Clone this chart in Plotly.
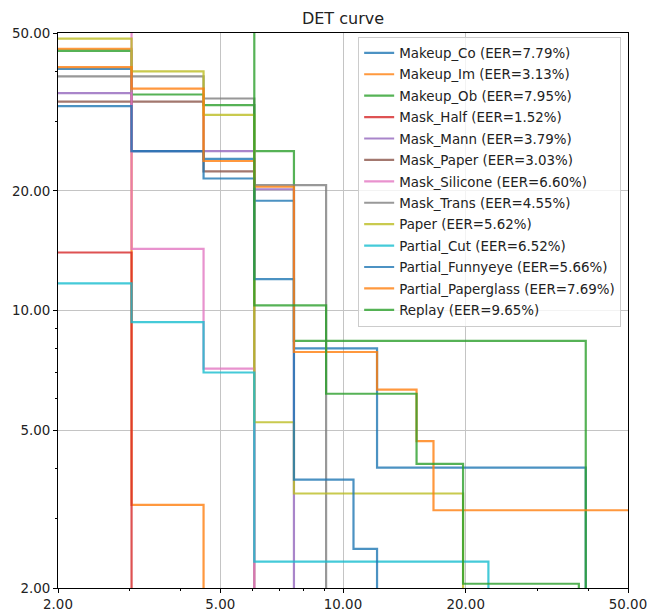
import plotly.graph_objects as go

# DET curve data: false positive rate (%) and false negative rate (%) at each step vertex.
# Each series is drawn as a staircase ("hv"): horizontal to the next x, then vertical.
names = [
    "Makeup_Co", "Makeup_Im", "Makeup_Ob", "Mask_Half", "Mask_Mann", "Mask_Paper",
    "Mask_Silicone", "Mask_Trans", "Paper", "Partial_Cut", "Partial_Funnyeye",
    "Partial_Paperglass", "Replay",
]
eer = [7.79, 3.13, 7.95, 1.52, 3.79, 3.03, 6.60, 4.55, 5.62, 6.52, 5.66, 7.69, 9.65]

fpr_makeup_co = [1.52, 3.03, 4.55, 6.06, 7.58, 12.12, 39.39]
fnr_makeup_co = [40.6, 25.2, 24.1, 18.9, 8.03, 4.02, 1.0]

fpr_makeup_im = [1.52, 3.03, 4.55]
fnr_makeup_im = [45.6, 3.24, 1.0]

fpr_makeup_ob = [1.52, 3.03, 4.55, 6.06, 7.58, 39.39]
fnr_makeup_ob = [45.1, 35.0, 32.9, 25.2, 8.38, 1.0]

fpr_mask_half = [1.52, 3.03]
fnr_mask_half = [14.0, 1.0]

fpr_mask_mann = [1.52, 3.03, 6.06, 7.58]
fnr_mask_mann = [35.3, 25.2, 20.2, 1.0]

fpr_mask_paper = [1.52, 4.55, 6.06]
fnr_mask_paper = [33.6, 22.4, 1.0]

fpr_mask_silicone = [1.52, 3.03, 4.55, 6.06]
fnr_mask_silicone = [60.0, 14.3, 7.14, 1.0]

fpr_mask_trans = [1.52, 4.55, 6.06, 9.09]
fnr_mask_trans = [38.9, 34.2, 20.7, 1.0]

fpr_paper = [1.52, 3.03, 4.55, 6.06, 7.58, 19.70]
fnr_paper = [48.4, 40.0, 31.1, 5.23, 3.46, 1.0]

fpr_partial_cut = [1.52, 3.03, 4.55, 6.06, 22.73]
fnr_partial_cut = [11.7, 9.35, 6.98, 2.33, 1.0]

fpr_partial_funnyeye = [1.52, 3.03, 4.55, 6.06, 7.58, 10.61, 12.12]
fnr_partial_funnyeye = [32.7, 25.2, 21.5, 12.0, 3.75, 2.51, 1.0]

fpr_partial_paperglass = [1.52, 3.03, 4.55, 6.06, 7.58, 12.12, 15.15, 16.67, 100.0]
fnr_partial_paperglass = [41.0, 36.2, 23.8, 20.5, 7.86, 6.32, 4.69, 3.14, 3.14]

fpr_replay = [1.52, 6.06, 9.09, 15.15, 19.70, 37.88]
fnr_replay = [60.0, 10.3, 6.17, 4.11, 2.05, 1.0]

series_fpr = [
    fpr_makeup_co, fpr_makeup_im, fpr_makeup_ob, fpr_mask_half, fpr_mask_mann,
    fpr_mask_paper, fpr_mask_silicone, fpr_mask_trans, fpr_paper, fpr_partial_cut,
    fpr_partial_funnyeye, fpr_partial_paperglass, fpr_replay,
]
series_fnr = [
    fnr_makeup_co, fnr_makeup_im, fnr_makeup_ob, fnr_mask_half, fnr_mask_mann,
    fnr_mask_paper, fnr_mask_silicone, fnr_mask_trans, fnr_paper, fnr_partial_cut,
    fnr_partial_funnyeye, fnr_partial_paperglass, fnr_replay,
]

tick_vals = [2, 5, 10, 20, 50]
tick_text = ["2.00", "5.00", "10.00", "20.00", "50.00"]
minor_vals = [3, 4, 6, 7, 8, 9, 30, 40]

palette = [
    "#1f77b4", "#ff7f0e", "#2ca02c", "#d62728", "#9467bd", "#8c564b", "#e377c2",
    "#7f7f7f", "#bcbd22", "#17becf", "#1f77b4", "#ff7f0e", "#2ca02c",
]

FONT = "DejaVu Sans"
TXT = "#222222"

fig = go.Figure()
for i, name in enumerate(names):
    fig.add_trace(go.Scatter(
        x=series_fpr[i], y=series_fnr[i],
        mode="lines",
        line=dict(color=palette[i], width=2.2, shape="hv"),
        opacity=0.8,
        name=f"{name} (EER={eer[i]:.2f}%)",
        legendgroup=name,
    ))

axis_common = dict(
    type="log",
    automargin=False,
    tickmode="array",
    tickvals=tick_vals,
    ticktext=tick_text,
    ticks="outside",
    ticklen=4,
    tickwidth=1,
    tickcolor="black",
    showline=True,
    linecolor="black",
    linewidth=1,
    mirror=True,
    showgrid=True,
    gridcolor="#c4c4c4",
    gridwidth=1,
    zeroline=False,
    tickfont=dict(family=FONT, size=13.4, color=TXT),
    minor=dict(tickvals=minor_vals, ticks="outside", ticklen=2, tickwidth=1,
               tickcolor="black", showgrid=False),
)

fig.update_xaxes(range=[0.30103, 1.69897], **axis_common)
fig.update_yaxes(range=[0.30103, 1.69897], **axis_common)

fig.update_layout(
    width=648,
    height=612,
    margin=dict(l=58, r=20, t=33, b=24, autoexpand=False),
    paper_bgcolor="white",
    plot_bgcolor="white",
    font=dict(family=FONT, size=13.4, color=TXT),
    title=dict(text="DET curve", x=0.5, xref="paper", xanchor="center",
               y=1 - 18 / 612, yref="container", yanchor="middle",
               font=dict(family=FONT, size=16, color=TXT)),
    legend=dict(
        x=0.988, y=0.9935, xanchor="right", yanchor="top",
        bgcolor="rgba(255,255,255,0.8)",
        bordercolor="#cccccc", borderwidth=1,
        font=dict(family=FONT, size=13.4, color=TXT),
        tracegroupgap=1,
    ),
    showlegend=True,
)

fig.write_html("out.html")
